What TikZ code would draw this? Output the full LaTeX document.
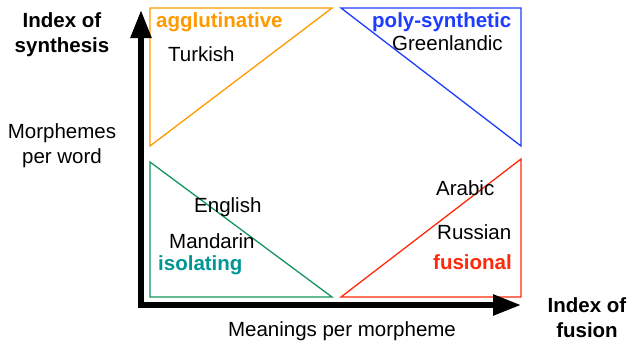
\documentclass[tikz,border=0pt]{standalone}
\usepackage{fontspec}
\setmainfont{Liberation Sans}
\usetikzlibrary{arrows.meta}
\definecolor{orng}{RGB}{255,153,0}
\definecolor{blu}{RGB}{30,60,255}
\definecolor{grn}{RGB}{20,150,90}
\definecolor{tealtxt}{RGB}{0,150,150}
\definecolor{rd}{RGB}{255,40,10}
\begin{document}
\begin{tikzpicture}[x=1pt,y=-1pt,
 lbl/.style={inner sep=0pt, font=\fontsize{20.5}{25}\selectfont, anchor=base west},
 cat/.style={lbl, font=\fontsize{20.5}{25}\selectfont\bfseries},
 axlbl/.style={inner sep=0pt, align=center, anchor=base, font=\fontsize{20.5}{25}\selectfont},
 tri/.style={line width=1.3pt, line join=miter},
 axis/.style={line width=5.5pt, line join=miter, {Triangle[width=20pt,length=28pt]}-{Triangle[width=20pt,length=28pt]}}]
\useasboundingbox (0,0) rectangle (627,341);
% triangles
\draw[tri, orng] (150,8) -- (332,8) -- (150,146) -- cycle;
\draw[tri, blu] (341,8) -- (521,8) -- (521,146) -- cycle;
\draw[tri, grn] (150,162) -- (150,297) -- (332,297) -- cycle;
\draw[tri, rd] (341,297) -- (521,159) -- (521,297) -- cycle;
% axes
\coordinate (o) at (141,305);
\coordinate (ytip) at (141,10);
\coordinate (xtip) at (521,305);
\draw[axis] (ytip) -- (o) -- (xtip);
% category labels
\node[cat, text=orng] (agg) at (156,27) {agglutinative};
\node[cat, text=blu] (poly) at (372,27) {poly-synthetic};
\node[cat, text=tealtxt] (iso) at (158,270) {isolating};
\node[cat, text=rd] (fus) at (433,269) {fusional};
% languages
\node[lbl] (tur) at (168,61) {Turkish};
\node[lbl] (grl) at (392,50) {Greenlandic};
\node[lbl] (eng) at (194,212) {English};
\node[lbl] (man) at (169,248) {Mandarin};
\node[lbl] (ara) at (436,195) {Arabic};
\node[lbl] (rus) at (437,239) {Russian};
% axis labels
\node[axlbl, font=\fontsize{20.5}{25}\selectfont\bfseries] (isyn) at (62,52) {Index of\\synthesis};
\node[axlbl] (mpw) at (62,163) {Morphemes\\per word};
\node[axlbl, font=\fontsize{20.5}{25}\selectfont\bfseries] (ifus) at (587,337) {Index of\\fusion};
\node[axlbl] (mpm) at (342,336) {Meanings per morpheme};
\end{tikzpicture}
\end{document}
